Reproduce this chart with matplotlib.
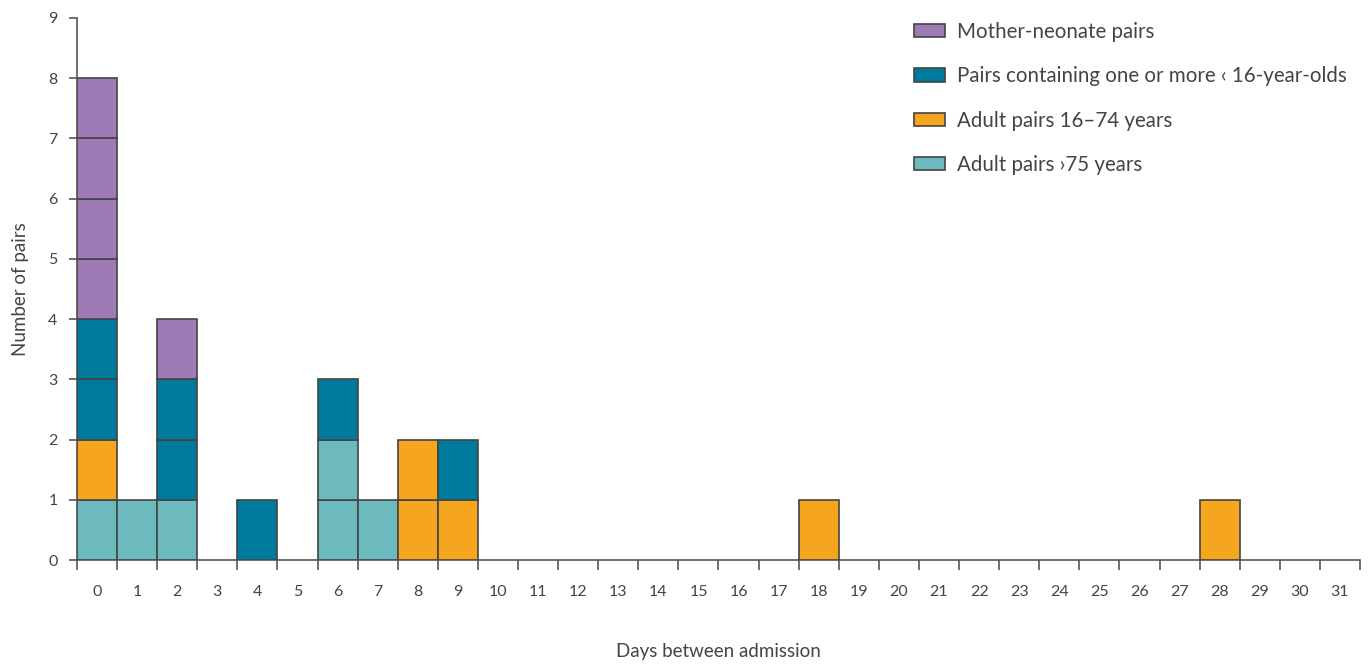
import numpy as np
import matplotlib.pyplot as plt
from matplotlib.patches import Patch

plt.rcParams['font.family'] = ['Lato', 'DejaVu Sans']

# days between admission and counts of pairs per group
days = [0, 1, 2, 4, 6, 7, 8, 9, 18, 28]
old_pairs = [1, 1, 1, 0, 2, 1, 0, 0, 0, 0]      # Adult pairs >75 years
adult_pairs = [1, 0, 0, 0, 0, 0, 2, 1, 1, 1]    # Adult pairs 16-74 years
child_pairs = [2, 0, 2, 1, 1, 0, 0, 1, 0, 0]    # Pairs with <16-year-olds
mother_pairs = [4, 0, 1, 0, 0, 0, 0, 0, 0, 0]   # Mother-neonate pairs

labels = ['Mother-neonate pairs', 'Pairs containing one or more \u2039 16-year-olds',
          'Adult pairs 16\u201374 years', 'Adult pairs \u203a75 years']
colors = ['#9e7bb5', '#007a9c', '#f5a61e', '#6cb9be']
n_days = 32
yticks = list(range(10))

txt = '#444444'
edge = '#444444'

fig = plt.figure(figsize=(13.7, 6.64), dpi=100)
ax = fig.add_axes([0.0562, 0.1566, 0.9365, 0.8163])

stack = [(old_pairs, colors[3]), (adult_pairs, colors[2]),
         (child_pairs, colors[1]), (mother_pairs, colors[0])]
for i, d in enumerate(days):
    bottom = 0
    for vals, c in stack:
        for k in range(vals[i]):
            ax.bar(d + 0.5, 1, bottom=bottom, width=1, color=c,
                   edgecolor=edge, linewidth=1.2, zorder=3)
            bottom += 1

ax.set_xlim(0, n_days)
ax.set_ylim(0, 9)
ax.set_yticks(yticks)
ax.set_xticks(np.arange(n_days + 1))
ax.set_xticklabels([])
ax.set_xticks(np.arange(n_days) + 0.5, minor=True)
ax.set_xticklabels([str(i) for i in range(n_days)], minor=True)
ax.tick_params(axis='x', which='major', length=7, width=1.2, color='#555555', direction='out')
ax.tick_params(axis='x', which='minor', length=0, pad=18, labelsize=11.5, labelcolor=txt)
ax.tick_params(axis='y', length=6, width=1.2, color='#555555', labelsize=11.5, labelcolor=txt, pad=8)

for s in ['top', 'right']:
    ax.spines[s].set_visible(False)
for s in ['left', 'bottom']:
    ax.spines[s].set_color('#555555')
    ax.spines[s].set_linewidth(1.2)

ax.set_ylabel('Number of pairs', fontsize=13.5, color=txt, labelpad=14)
ax.set_xlabel('Days between admission', fontsize=13.5, color=txt, labelpad=32)

handles = [Patch(facecolor=c, edgecolor=edge, linewidth=1.2) for c in colors]
fig.legend(handles, labels, loc='upper left', bbox_to_anchor=(914 / 1370, 1 - 22 / 664),
           frameon=False, fontsize=14.8, labelspacing=1.18, handlelength=1.5,
           handleheight=0.6, handletextpad=0.58, labelcolor=txt,
           borderpad=0, borderaxespad=0)

fig.savefig('out.png', dpi=100)
